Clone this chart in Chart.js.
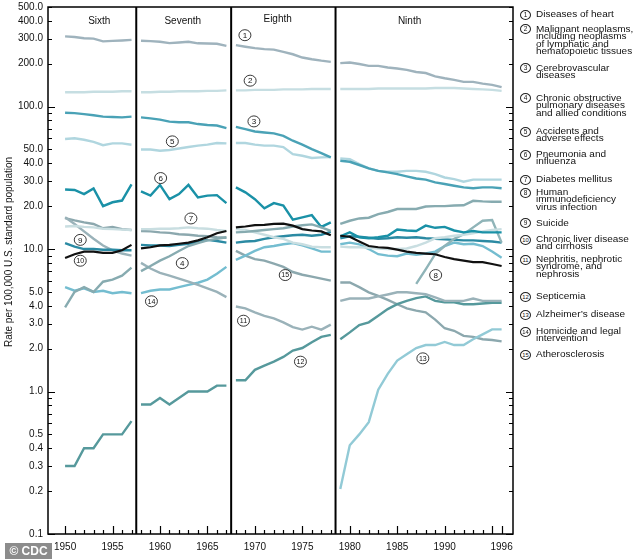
<!DOCTYPE html>
<html><head><meta charset="utf-8">
<script src="https://cdn.jsdelivr.net/npm/chart.js@4.4.1/dist/chart.umd.min.js"></script>
<style>
body{margin:0;background:#fff;}
#wrap{position:relative;width:634px;height:559px;overflow:hidden;font-family:"Liberation Sans",Arial,sans-serif;background:#fff;}
#c{position:absolute;left:0;top:0;}
.lc{position:absolute;width:9px;height:8px;border:1px solid #222;border-radius:50%;font-size:6.5px;line-height:8px;text-align:center;color:#111;background:#fff;}
.lt{position:absolute;font-size:10px;line-height:8.4px;transform:scaleY(0.88);transform-origin:0 0;white-space:nowrap;color:#111;}
#cdc{position:absolute;left:5px;top:543px;width:47px;height:16px;background:rgba(120,120,120,0.85);color:#fff;font-weight:bold;font-size:12px;line-height:16px;text-align:center;}
</style></head>
<body><div id="wrap"><canvas id="c" width="634" height="559"></canvas><div id="legend"></div><div id="cdc">© CDC</div></div>
<script>
const years = [1950,1951,1952,1953,1954,1955,1956,1957,1958,1959,1960,1961,1962,1963,1964,1965,1966,1967,1968,1969,1970,1971,1972,1973,1974,1975,1976,1977,1978,1979,1980,1981,1982,1983,1984,1985,1986,1987,1988,1989,1990,1991,1992,1993,1994,1995,1996];
const panelEnds = [1957, 1967, 1978];
const panelNames = ["Sixth","Seventh","Eighth","Ninth"];

const heart = [311,308,302,300,287,289,291,294, 290,288,285,279,282,285,278,277,276,267, 270,263,257,253,251,242,233,221,215,210,206, 202,204,199,193,193,188,185,181,175,172,163,158,154,149,149,145,142,137];
const cancer = [126,126,126,127,127,127,128,128, 126,126,127,127,128,128,128,129,129,130, 130,130,131,131,131,132,132,132,133,133,133, 133,133,133,133,134,134,134,134,134,134,135,135,135,134,133,132,131,129];
const stroke = [90.5,90,88.5,87,85,84.5,84,85, 84,82.7,81,78.4,77.6,77.6,75.4,74.2,73.6,70.6, 72,69.4,66.9,65.8,64.8,62.3,57.6,54,50.3,47.2,44, 41.7,41.0,38.9,36.8,35.4,34.5,33.6,32.4,31.3,30.7,29.4,28.6,27.8,27.1,26.7,27.1,27.1,26.7];
const copd = [3.9,5.0,5.4,5.0,5.9,6.1,6.5,7.4, 7.0,7.6,8.3,8.9,9.7,10.5,11.0,11.5,11.8,12.1, 13.1,13.2,13.4,13.6,13.8,14.0,14.4,14.7,14.9,14.2,13.4, 15.0,15.8,16.4,16.6,17.6,18.2,19.1,19.1,19.1,19.9,20.0,20.0,20.2,20.3,21.8,21.6,21.5,21.5];
const accidents = [59.2,59.9,58.5,56.6,53.6,55.2,55.2,54, 50,50,49,49.6,50.8,52,53.2,54.1,55.5,55.2, 55.5,55.5,54.1,53.2,53.2,52,46.4,45.2,43.6,44,44.2, 43.3,42.8,39.5,36.8,35.4,34.9,34.9,35.4,35.4,34.9,33.6,31.8,31.0,29.7,30.7,30.7,30.7,30.7];
const pneumonia = [26.2,26.0,24.3,26.6,20.0,21.3,21.9,28.4, 25.4,23.7,28.2,22.4,24.3,28.2,23.0,23.7,23.9,21.0, 27.1,25.0,22.4,19.3,21.0,20.2,16.1,16.7,17.3,14.3,15.4, 12.3,13.1,12.1,11.9,12.1,12.4,13.7,13.5,13.4,14.6,14.1,14.3,13.5,13.1,13.4,13.1,13.1,13.1];
const diabetes = [14.4,14.5,14.3,14.2,13.9,13.8,13.7,13.6, 13.8,13.8,13.9,13.9,14.0,14.2,14.0,13.9,13.6,13.4, 13.8,13.6,13.1,12.6,12.1,11.8,11.1,10.8,10.4,10.3,10.3, 10.4,10.3,10.3,10.2,10.1,10.0,10.0,10.1,10.5,11.1,11.9,12.1,12.4,12.6,12.9,13.3,13.6,13.8];
const hiv = [null,null,null,null,null,null,null,null, null,null,null,null,null,null,null,null,null,null, null,null,null,null,null,null,null,null,null,null,null, null,null,null,null,null,null,null,null,5.7,7.2,9.2,10.5,11.8,12.7,14.2,15.8,16.0,11.1];
const suicide = [11.0,10.4,10.0,10.0,9.9,9.9,9.8,9.8, 10.7,10.6,10.6,10.5,10.7,10.9,11.2,11.6,11.4,11.1, 11.1,11.3,11.4,11.8,12.1,12.3,12.5,12.6,12.4,12.6,13.2, 11.9,12.3,12.2,12.0,11.8,11.9,12.1,12.0,12.1,11.9,11.8,11.7,11.6,11.5,11.5,11.4,11.3,11.1];
const liver = [8.65,9.2,9.6,9.6,9.4,9.4,9.8,10.7, 10.1,10.3,10.6,10.7,10.9,11.1,11.5,12.1,12.9,13.4, 14.2,14.4,14.7,14.8,15.0,15.1,14.6,13.8,13.5,13.3,12.5, 12.4,12.2,11.3,10.5,10.3,10.2,9.9,9.6,9.4,9.3,9.2,8.8,8.5,8.3,8.1,8.1,7.85,7.6];
const nephritis = [16.7,15.0,13.3,11.8,10.6,9.8,9.3,9.0, 8.0,7.3,6.8,6.5,6.2,5.9,5.6,5.3,5.0,4.6, 3.95,3.83,3.6,3.4,3.26,3.06,2.83,2.72,2.85,2.72,2.95, 4.33,4.5,4.5,4.5,4.65,4.8,4.97,4.97,4.9,4.83,4.58,4.33,4.33,4.33,4.5,4.33,4.33,4.33];
const septicemia = [0.3,0.3,0.4,0.4,0.5,0.5,0.5,0.62, 0.81,0.81,0.9,0.81,0.9,1.0,1.0,1.0,1.1,1.1, 1.2,1.2,1.42,1.52,1.62,1.75,1.94,2.02,2.22,2.42,2.5, 2.33,2.6,2.93,3.06,3.4,3.79,4.1,4.33,4.53,4.65,4.33,4.23,4.23,4.1,4.1,4.15,4.2,4.2];
const alzheimers = [null,null,null,null,null,null,null,null, null,null,null,null,null,null,null,null,null,null, null,null,null,null,null,null,null,null,null,null,null, 0.207,0.42,0.50,0.61,1.03,1.33,1.65,1.83,2.02,2.12,2.12,2.23,2.12,2.12,2.33,2.52,2.73,2.73];
const homicide = [5.4,5.1,5.3,5.0,5.1,4.9,5.0,4.9, 4.9,5.1,5.2,5.2,5.4,5.6,5.8,6.1,6.7,7.5, 8.4,9.0,9.7,10.3,10.5,10.8,11.0,10.6,10.1,9.6,9.6, 10.8,11.1,10.8,10.0,9.2,9.0,8.9,9.3,9.1,9.3,9.6,10.5,11.1,10.8,10.9,10.5,9.6,8.7];
const atherosclerosis = [16.5,15.9,15.4,15.0,14.0,14.3,13.8,13.6, 13.4,13.3,13.1,13.0,12.7,12.6,12.4,12.3,12.1,12.0, 9.7,9.0,8.5,8.3,7.9,7.5,6.9,6.6,6.4,6.2,6.0, 5.83,5.83,5.4,4.97,4.7,4.4,4.1,3.83,3.7,3.6,3.2,2.78,2.67,2.46,2.42,2.33,2.3,2.25];

const causeLines = [
 ["Diseases of heart"],
 ["Malignant neoplasms,","including neoplasms","of lymphatic and","hematopoietic tissues"],
 ["Cerebrovascular","diseases"],
 ["Chronic obstructive","pulmonary diseases","and allied conditions"],
 ["Accidents and","adverse effects"],
 ["Pneumonia and","influenza"],
 ["Diabetes mellitus"],
 ["Human","immunodeficiency","virus infection"],
 ["Suicide"],
 ["Chronic liver disease","and cirrhosis"],
 ["Nephritis, nephrotic","syndrome, and","nephrosis"],
 ["Septicemia"],
 ["Alzheimer\u2019s disease"],
 ["Homicide and legal","intervention"],
 ["Atherosclerosis"]
];
const seriesValues = [heart,cancer,stroke,copd,accidents,pneumonia,diabetes,hiv,suicide,liver,nephritis,septicemia,alzheimers,homicide,atherosclerosis];
const seriesColors = ["#9fb3bd","#c6dee2","#4aa2b6","#87abb0","#b0d6df","#1a91a7","#c9dee1","#8fb4b8","#2b8aa3","#111111","#9ab2b9","#56999c","#92cad6","#74bdd0","#8ca8ae"];

const yTickVals = [500,400,300,200,100,50,40,30,20,10,5,4,3,2,1,0.5,0.4,0.3,0.2,0.1];
const yMarkVals = [0.1,0.2,0.3,0.4,0.5,0.6,0.7,0.8,0.9,1,2,3,4,5,6,7,8,9,10,20,30,40,50,60,70,80,90,100,200,300,400,500];
const xTickVals = [1950,1955,1960,1965,1970,1975,1980,1985,1990,1996];

// annotation positions in data units (year, rate)
const circleLabels = [
 {n:1,x:1968.95,y:317},{n:2,x:1969.5,y:152},{n:3,x:1969.9,y:78.7},{n:4,x:1962.35,y:7.97},
 {n:5,x:1961.3,y:57},{n:6,x:1960.07,y:31.5},{n:7,x:1963.26,y:16.4},{n:8,x:1989.05,y:6.57},
 {n:9,x:1951.6,y:11.6},{n:10,x:1951.6,y:8.28},{n:11,x:1968.8,y:3.14},{n:12,x:1974.8,y:1.62},
 {n:13,x:1987.7,y:1.71},{n:14,x:1959.1,y:4.3},{n:15,x:1973.2,y:6.57}
];
const panelLabelPos = [{x:1953.6,y:398},{x:1962.4,y:398},{x:1972.4,y:411},{x:1986.3,y:398}];
const legendTop = [15,29.3,68.3,98.3,131.7,155,180,193,223.3,240,260,296.7,315,331.7,355];

function buildData(vals){
  const out=[];
  years.forEach((yr,i)=>{
    out.push({x:yr,y:vals[i]});
    if(panelEnds.includes(yr)) out.push({x:yr+0.5,y:null});
  });
  return out;
}

const datasets = seriesValues.map((v,i)=>({
  label: causeLines[i].join(' '),
  data: buildData(v),
  borderColor: seriesColors[i],
  backgroundColor: seriesColors[i],
  borderWidth: i===9?2.2:2.4,
  pointRadius:0,
  tension:0,
  spanGaps:false,
  fill:false,
  order: i===9?0:1
}));

const FONT = '"Liberation Sans", Arial, sans-serif';

const decor = {
  id:'decor',
  afterDatasetsDraw(chart){
    const {ctx, chartArea:a, scales} = chart;
    const xs = scales.x, ys = scales.y;
    ctx.save();
    ctx.strokeStyle='#000';
    ctx.lineWidth=1.5;
    ctx.strokeRect(a.left, a.top, a.right-a.left, a.bottom-a.top);
    ctx.lineWidth=2;
    panelEnds.forEach(e=>{
      const px = xs.getPixelForValue(e+0.5);
      ctx.beginPath(); ctx.moveTo(px,a.top); ctx.lineTo(px,a.bottom); ctx.stroke();
    });
    ctx.lineWidth=1;
    yMarkVals.forEach(v=>{
      const py = Math.round(ys.getPixelForValue(v))+0.5;
      const lg = Math.log10(v);
      const major = Math.abs(lg-Math.round(lg))<1e-9;
      const len = major?7:4;
      ctx.beginPath();
      ctx.moveTo(a.left,py); ctx.lineTo(a.left+len,py);
      ctx.moveTo(a.right,py); ctx.lineTo(a.right-len,py);
      ctx.stroke();
    });
    ctx.lineWidth=1.2;
    years.forEach(yr=>{
      const px = Math.round(xs.getPixelForValue(yr))+0.5;
      const len = (yr%5===0||yr===1996)?8:4;
      ctx.beginPath(); ctx.moveTo(px,a.bottom); ctx.lineTo(px,a.bottom-len); ctx.stroke();
    });
    ctx.fillStyle='#111';
    ctx.font='10px '+FONT;
    ctx.textAlign='center'; ctx.textBaseline='middle';
    panelNames.forEach((nm,i)=>{
      ctx.fillText(nm, xs.getPixelForValue(panelLabelPos[i].x), ys.getPixelForValue(panelLabelPos[i].y));
    });
    circleLabels.forEach(c=>{
      const px = xs.getPixelForValue(c.x), py = ys.getPixelForValue(c.y);
      ctx.beginPath(); ctx.ellipse(px,py,6,5.5,0,0,Math.PI*2);
      ctx.fillStyle='#fff'; ctx.fill();
      ctx.strokeStyle='#222'; ctx.lineWidth=0.9; ctx.stroke();
      ctx.fillStyle='#111';
      ctx.font=(c.n>=10?'7px ':'8px ')+FONT;
      ctx.fillText(String(c.n), px, py+0.5);
    });
    ctx.save();
    ctx.translate(9, 252);
    ctx.rotate(-Math.PI/2);
    ctx.font='10px '+FONT;
    ctx.fillStyle='#111';
    ctx.textAlign='center'; ctx.textBaseline='middle';
    ctx.fillText('Rate per 100,000 U.S. standard population',0,0);
    ctx.restore();
    ctx.restore();
  }
};

new Chart(document.getElementById('c'), {
  type:'line',
  data:{datasets},
  options:{
    responsive:false,
    animation:false,
    devicePixelRatio:1,
    layout:{padding:{top:7,right:121,left:0,bottom:0}},
    plugins:{legend:{display:false},tooltip:{enabled:false},title:{display:false}},
    scales:{
      x:{
        type:'linear', min:1948.2, max:1997.2,
        afterBuildTicks:(s)=>{s.ticks = xTickVals.map(v=>({value:v}));},
        afterFit:(s)=>{s.height=25; s.paddingLeft=0; s.paddingRight=0;},
        grid:{display:true,drawOnChartArea:false,drawTicks:false,color:'rgba(0,0,0,0)'},
        border:{display:false},
        ticks:{autoSkip:false,maxRotation:0,padding:7,color:'#111',font:{family:FONT,size:10},callback:(v)=>String(v)}
      },
      y:{
        type:'logarithmic', min:0.1, max:500,
        afterBuildTicks:(s)=>{s.ticks = yTickVals.map(v=>({value:v}));},
        afterFit:(s)=>{s.width=48; s.paddingTop=0; s.paddingBottom=0;},
        grid:{display:true,drawOnChartArea:false,drawTicks:false,color:'rgba(0,0,0,0)'},
        border:{display:false},
        ticks:{autoSkip:false,padding:5,color:'#111',font:{family:FONT,size:10},callback:(v)=>Number(v).toFixed(1)}
      }
    }
  },
  plugins:[decor]
});

const lg = document.getElementById('legend');
causeLines.forEach((lines,i)=>{
  const y = legendTop[i];
  const c = document.createElement('div');
  c.className='lc';
  c.style.left='520px'; c.style.top=(y-5)+'px';
  c.textContent=String(i+1);
  if(i>=9) c.style.fontSize='5.8px';
  lg.appendChild(c);
  const t = document.createElement('div');
  t.className='lt';
  t.style.left='536px'; t.style.top=(y-3.7)+'px';
  t.innerHTML = lines.join('<br>');
  lg.appendChild(t);
});
</script>
</body></html>
